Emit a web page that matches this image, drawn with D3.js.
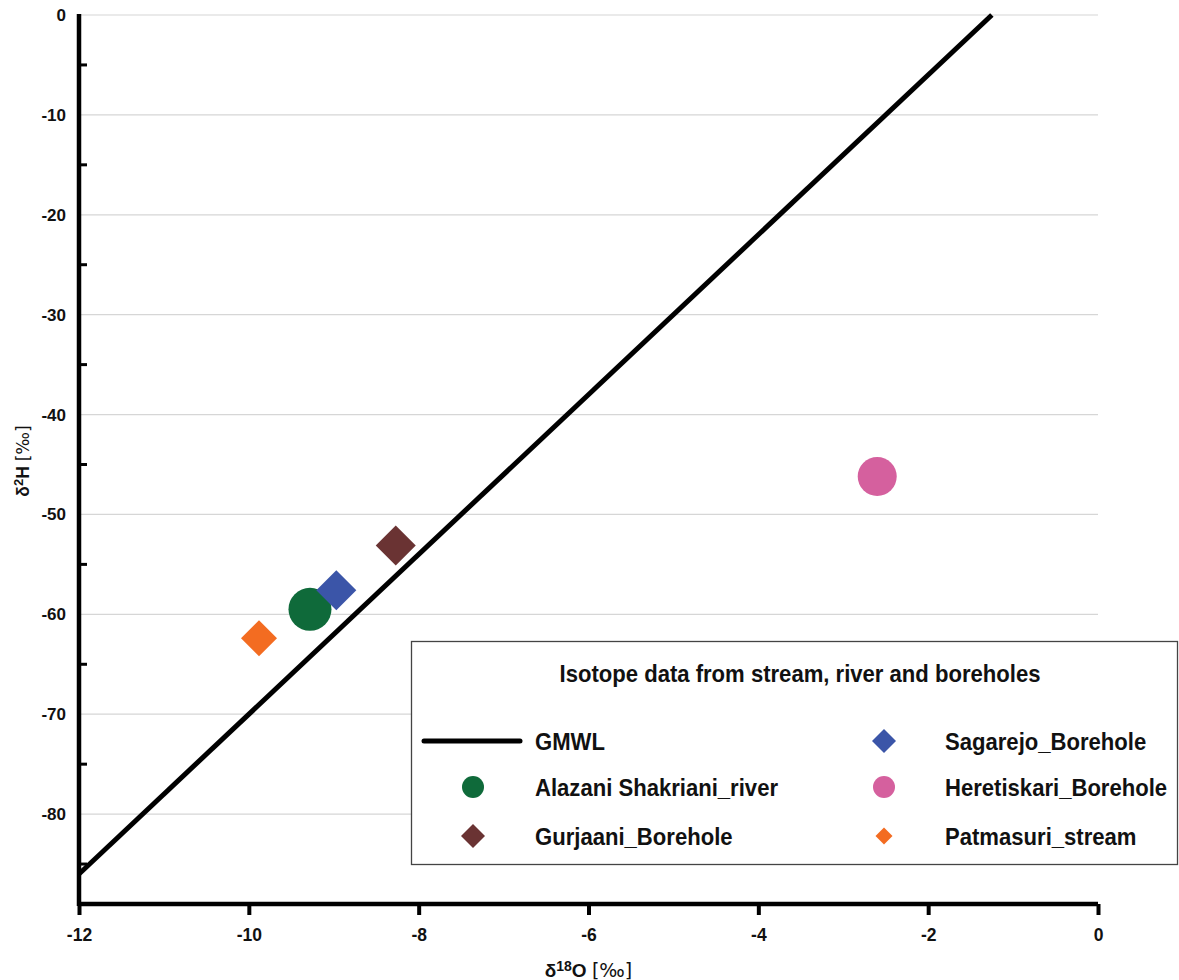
<!DOCTYPE html>
<html>
<head>
<meta charset="utf-8">
<script src="https://cdn.jsdelivr.net/npm/d3@7"></script>
<style>
  body { margin: 0; background: #fff; }
  svg { font-family: "Liberation Sans", Arial, sans-serif; font-weight: bold; }
</style>
</head>
<body>
<svg id="chart" width="1179" height="980"></svg>
<script>
const names = ["Patmasuri_stream", "Alazani Shakriani_river", "Sagarejo_Borehole", "Gurjaani_Borehole", "Heretiskari_Borehole"];
const d18O = [-9.88, -9.28, -8.97, -8.27, -2.6];
const d2H = [-62.4, -59.5, -57.6, -53.1, -46.2];
const shapes = ["diamond", "circle", "diamond", "diamond", "circle"];
const colors = ["#f36c21", "#0f6a3a", "#3b55a8", "#6a3333", "#d5609e"];
const sizes = [18, 21.5, 20, 20, 19.5]; // radius / half-diagonal

const gmwlX = [-12, -1.25];
const gmwlY = [-86, 0];

const xTicks = [-12, -10, -8, -6, -4, -2, 0];
const yTicks = [0, -10, -20, -30, -40, -50, -60, -70, -80];
const yMinor = [-5, -15, -25, -35, -45, -55, -65, -75, -85];

const svg = d3.select("#chart");

const x = d3.scaleLinear().domain([-12, 0]).range([79, 1098]);
const y = d3.scaleLinear().domain([-89, 0]).range([904, 15]);

// gridlines
svg.append("g")
  .selectAll("line")
  .data(yTicks)
  .enter()
  .append("line")
  .attr("x1", x(-12))
  .attr("x2", x(0))
  .attr("y1", d => y(d))
  .attr("y2", d => y(d))
  .attr("stroke", "#d6d6d6")
  .attr("stroke-width", 1.2);

// y axis
const yAxis = svg.append("g")
  .attr("transform", `translate(${x(-12)},0)`)
  .call(d3.axisLeft(y).tickValues(yTicks).tickSize(0).tickPadding(13).tickFormat(d => String(d)));
yAxis.select(".domain").remove();
yAxis.selectAll("text").attr("font-size", 17).attr("fill", "#111").attr("font-family", null);

svg.append("g")
  .selectAll("line")
  .data(yMinor)
  .enter()
  .append("line")
  .attr("x1", x(-12))
  .attr("x2", x(-12) + 8)
  .attr("y1", d => y(d))
  .attr("y2", d => y(d))
  .attr("stroke", "#000")
  .attr("stroke-width", 3);

svg.append("line")
  .attr("x1", x(-12)).attr("x2", x(-12))
  .attr("y1", y(0) - 1).attr("y2", y(-89) + 2)
  .attr("stroke", "#000").attr("stroke-width", 4.5);

// x axis
const xAxis = svg.append("g")
  .attr("transform", `translate(0,${y(-89)})`)
  .call(d3.axisBottom(x).tickValues(xTicks).tickSize(11).tickPadding(14).tickFormat(d => String(d)));
xAxis.select(".domain").attr("stroke-width", 4.5).attr("d", `M${x(-12)},0H${x(0)}`);
xAxis.selectAll(".tick line").attr("stroke-width", 4);
xAxis.selectAll("text").attr("font-size", 17.5).attr("fill", "#111").attr("font-family", null);

// axis titles
const xt = svg.append("text")
  .attr("x", (x(-12) + x(0)) / 2)
  .attr("y", 977)
  .attr("text-anchor", "middle")
  .attr("font-size", 19)
  .attr("fill", "#111");
xt.append("tspan").text("δ");
xt.append("tspan").attr("font-size", 14).attr("dy", -6).text("18");
xt.append("tspan").attr("dy", 6).text("O ");
xt.append("tspan").attr("font-size", 19).attr("font-family", "DejaVu Sans").attr("font-weight", "normal").text("[‰]");

const yt = svg.append("text")
  .attr("transform", `translate(29,461) rotate(-90)`)
  .attr("text-anchor", "middle")
  .attr("font-size", 17.5)
  .attr("fill", "#111");
yt.append("tspan").text("δ");
yt.append("tspan").attr("font-size", 13).attr("dy", -6).text("2");
yt.append("tspan").attr("dy", 6).text("H ");
yt.append("tspan").attr("font-size", 17).attr("font-family", "DejaVu Sans").attr("font-weight", "normal").text("[‰]");

// GMWL
const line = d3.line().x(d => x(d[0])).y(d => y(d[1]));
svg.append("path")
  .datum(gmwlX.map((v, i) => [v, gmwlY[i]]))
  .attr("d", line)
  .attr("fill", "none")
  .attr("stroke", "#000")
  .attr("stroke-width", 5);

// markers
function marker(sel, shape, r) {
  if (shape === "circle") {
    sel.append("circle").attr("r", r);
  } else {
    sel.append("path").attr("d", `M0,${-r}L${r},0L0,${r}L${-r},0Z`);
  }
}

names.forEach((n, i) => {
  const g = svg.append("g")
    .attr("transform", `translate(${x(d18O[i])},${y(d2H[i])})`)
    .attr("fill", colors[i]);
  marker(g, shapes[i], sizes[i]);
});

// legend
const legend = svg.append("g");
legend.append("rect")
  .attr("x", 411.5).attr("y", 641.5)
  .attr("width", 766).attr("height", 223)
  .attr("fill", "#fff")
  .attr("stroke", "#444")
  .attr("stroke-width", 1.3);

function narrow(t) {
  const w = t.node().getComputedTextLength();
  t.attr("textLength", w * 0.92).attr("lengthAdjust", "spacingAndGlyphs");
}

legend.append("text")
  .attr("x", 800).attr("y", 682)
  .attr("text-anchor", "middle")
  .attr("font-size", 24)
  .attr("fill", "#111")
  .text("Isotope data from stream, river and boreholes")
  .call(narrow);

const legendItems = [
  { label: "GMWL", col: 0, row: 0, idx: -1 },
  { label: "Alazani Shakriani_river", col: 0, row: 1, idx: 1, r: 11 },
  { label: "Gurjaani_Borehole", col: 0, row: 2, idx: 3, r: 12 },
  { label: "Sagarejo_Borehole", col: 1, row: 0, idx: 2, r: 12 },
  { label: "Heretiskari_Borehole", col: 1, row: 1, idx: 4, r: 11 },
  { label: "Patmasuri_stream", col: 1, row: 2, idx: 0, r: 8.5 }
];
const rowY = [741, 787, 836];
const symX = [473, 884];
const textX = [535, 945];

legendItems.forEach(it => {
  const cy = rowY[it.row];
  if (it.idx < 0) {
    legend.append("line")
      .attr("x1", 424).attr("x2", 520)
      .attr("y1", cy).attr("y2", cy)
      .attr("stroke", "#000").attr("stroke-width", 5)
      .attr("stroke-linecap", "round");
  } else {
    const g = legend.append("g")
      .attr("transform", `translate(${symX[it.col]},${cy})`)
      .attr("fill", colors[it.idx]);
    marker(g, shapes[it.idx], it.r);
  }
  legend.append("text")
    .attr("x", textX[it.col]).attr("y", cy + 9)
    .attr("font-size", 24)
    .attr("fill", "#111")
    .text(it.label)
    .call(narrow);
});
</script>
</body>
</html>
